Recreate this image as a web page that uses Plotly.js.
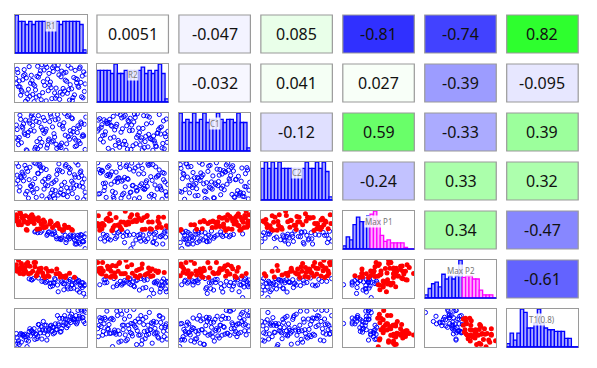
<!DOCTYPE html>
<html><head><meta charset="utf-8">
<script src="https://cdn.plot.ly/plotly-3.0.1.min.js"></script>
<style>html,body{margin:0;padding:0;background:#fff}#chart{width:597px;height:368px}</style>
</head><body><div id="chart"></div>
<script>
const varNames = ['R1','R2','C1','C2','P1','P2','T1'];
const histLabels = ['R1','R2','C1','C2','Max P1','Max P2','T1(0.8)'];

const R1 = [12,73,45,88,3,56,31,67,94,20,49,8,78,36,61,25,83,42,15,97,53,6,70,29,91,38,64,1,80,47,18,59,86,33,74,10,51,99,27,66,40,85,14,57,22,77,44,93,5,69,35,82,17,60,89,24,71,48,2,95,39,63,11,76,52,28,87,7,65,43,98,19,55,32,81,4,68,46,90,23,58,13,79,37,62,0,84,50,26,72,9,96,41,30,75,54,16,92,34,21];
const R2 = [85,22,60,41,77,9,94,35,68,14,52,30,89,5,71,46,18,99,63,27,80,39,57,12,92,24,66,48,3,75,33,87,50,16,96,58,8,73,42,20,84,61,1,36,70,45,91,13,55,28,82,64,7,97,38,19,78,44,86,10,53,25,69,4,90,31,59,17,81,2,47,93,23,65,11,40,76,29,88,56,15,72,34,98,6,62,83,37,0,54,26,79,43,67,32,95,21,51,74,49];
const C1 = [47,91,15,66,29,82,5,58,38,73,97,21,44,62,10,86,33,51,2,70,26,94,41,78,19,55,8,68,85,31,49,96,13,75,37,60,23,89,4,65,46,28,81,17,92,53,7,72,35,99,12,59,40,84,25,67,1,77,56,42,88,14,71,30,63,9,48,83,20,57,3,79,36,93,50,16,74,27,61,98,6,43,87,22,69,34,11,90,52,18,64,39,80,24,95,45,0,76,32,54];
const C2 = [63,8,37,92,51,24,70,13,45,86,2,58,31,77,95,19,66,40,83,55,11,34,89,6,72,48,27,97,16,61,4,79,38,90,21,68,43,9,56,74,28,99,15,52,35,81,1,64,23,46,87,30,75,12,59,41,93,7,65,33,84,18,50,71,26,96,5,62,39,80,20,53,3,69,44,88,14,57,36,25,67,91,49,10,78,42,60,17,98,32,73,0,54,29,85,47,22,76,94,37];
const P1 = [79,56,33,29,75,64,38,41,8,88,79,66,24,68,17,92,13,57,49,24,33,112,29,84,-1,63,14,100,47,41,75,70,-1,79,23,88,33,34,41,46,56,9,97,25,98,30,29,29,77,64,39,30,70,62,4,81,4,68,92,9,82,18,94,17,56,43,19,104,20,60,-17,92,38,90,25,66,50,39,25,100,17,75,49,44,52,80,-1,74,70,13,91,7,75,50,57,44,47,32,52,76];
const P2 = [68,16,57,36,80,42,68,28,14,90,17,100,10,83,64,46,51,32,98,21,31,64,50,55,23,66,40,95,24,53,63,23,34,81,9,78,73,-22,88,54,37,46,72,63,42,43,36,32,75,27,74,12,103,-1,39,72,56,29,72,31,55,52,62,65,20,103,5,86,34,82,24,45,46,48,42,111,6,72,-2,41,80,84,23,36,62,83,30,30,103,38,91,-7,50,59,36,30,93,20,73,65];
const T1 = [22,72,28,99,4,60,23,56,79,46,54,7,64,52,56,35,74,41,13,97,31,28,74,31,77,42,38,32,78,43,10,84,60,58,55,27,38,93,15,76,34,84,23,43,40,82,13,97,0,84,34,73,27,60,74,33,60,46,19,78,67,36,27,69,50,30,65,32,47,56,61,38,34,58,73,11,63,40,82,40,44,30,88,16,76,1,65,56,46,49,30,67,56,17,99,50,-6,102,43,25];

const histR1 = [12,10,10,9,10,9,10,10,10,10,10,10,10,9,10,10,10,10,10,9,1];
const histR2 = [10,10,10,10,9,12,9,9,10,10,10,10,10,11,9,10,9,10,12,9,1];
const histC1 = [12,9,10,9,12,9,10,12,9,10,10,12,10,9,10,10,9,12,9,9,1];
const histC2 = [10,12,10,12,10,12,10,10,10,10,10,10,10,12,10,10,12,10,12,9,1];
const histP1 = [2,8,6,16,21,18,18,22,23,25,19,9,5,6,4,4,4,4,1,0,0];
const histP2 = [2,6,9,10,7,15,12,14,12,14,24,13,14,14,12,12,5,2,2,2,0];
const histT1 = [2,8,4,8,22,20,11,11,14,22,14,11,10,10,9,9,9,5,5,0,0];

const corrRows = [
  [0.0051,-0.047,0.085,-0.81,-0.74,0.82],
  [-0.032,0.041,0.027,-0.39,-0.095],
  [-0.12,0.59,-0.33,0.39],
  [-0.24,0.33,0.32],
  [0.34,-0.47],
  [-0.61]
];
const thresholds = [null,null,null,null,44,48,null];
const splitBins = [null,null,null,null,8,11,null];

const data = [R1,R2,C1,C2,P1,P2,T1];
const hists = [histR1,histR2,histC1,histC2,histP1,histP2,histT1];

const W=597,H=368, cw=71.5, rh=38;
const colLeft = j => 15 + 81.95*j;
const rowTop = i => 15 + 49*i;
const xdom = j => [colLeft(j)/W, (colLeft(j)+cw)/W];
const ydom = i => [1-(rowTop(i)+rh)/H, 1-rowTop(i)/H];
const grey = '#9a9a9a';

const traces=[];
const layout={width:W,height:H,margin:{l:0,r:0,t:0,b:0},paper_bgcolor:'#fff',plot_bgcolor:'#fff',
  showlegend:false,barmode:'overlay',bargap:0,shapes:[],annotations:[]};

function axis(domain,range,anchor){
  return {domain,range,anchor,showline:true,mirror:true,linecolor:grey,linewidth:1,showgrid:false,
    zeroline:false,showticklabels:false,ticks:'',fixedrange:true};
}
function ext(arr){const mn=Math.min(...arr),mx=Math.max(...arr),p=(mx-mn)*0.01;return [mn-p,mx+p];}
function corrColor(r){
  const v=Math.round(255*(1-Math.abs(r)));
  return r>=0 ? `rgb(${v},255,${v})` : `rgb(${v},${v},255)`;
}

let k=0;
for(let i=0;i<7;i++){
  for(let j=0;j<7;j++){
    if(j>i){
      const r=corrRows[i][j-i-1];
      const xd=xdom(j), yd=ydom(i);
      layout.shapes.push({type:'rect',xref:'paper',yref:'paper',x0:xd[0],x1:xd[1],y0:yd[0],y1:yd[1],
        fillcolor:corrColor(r),line:{color:grey,width:1.2},layer:'below'});
      layout.annotations.push({xref:'paper',yref:'paper',x:(xd[0]+xd[1])/2,y:(yd[0]+yd[1])/2,
        text:String(r),showarrow:false,xanchor:'center',yanchor:'middle',
        font:{family:'Noto Sans, Segoe UI, sans-serif',size:16,color:'#111'}});
      continue;
    }
    k++;
    const s = k===1?'':String(k);
    const xr='x'+s, yr='y'+s;
    if(i===j){
      const h=hists[i], n=h.length, sp=splitBins[i]===null?n:splitBins[i];
      const idx=h.map((_,q)=>q);
      layout['xaxis'+s]=axis(xdom(j),[-0.5,n-0.5],yr);
      layout['yaxis'+s]=axis(ydom(i),[0,Math.max(...h)],xr);
      traces.push({type:'bar',x:idx.slice(0,sp),y:h.slice(0,sp),width:1,xaxis:xr,yaxis:yr,hoverinfo:'skip',
        marker:{color:'#aaaaff',line:{color:'#0000ff',width:1.3}}});
      if(sp<n){
        traces.push({type:'bar',x:idx.slice(sp),y:h.slice(sp),width:1,xaxis:xr,yaxis:yr,hoverinfo:'skip',
          marker:{color:'#ffaaff',line:{color:'#ff00ff',width:1.3}}});
      }
      layout.shapes.push({type:'line',xref:xr+' domain',yref:yr+' domain',x0:0,x1:1,y0:0,y1:0,
        line:{color:'#0000ff',width:1.5},layer:'above'});
      layout.annotations.push({xref:xr+' domain',yref:yr+' domain',x:0.5,y:0.73,text:histLabels[i],
        showarrow:false,xanchor:'center',yanchor:'middle',bgcolor:'rgba(255,255,255,0.85)',borderpad:0,
        font:{family:'Noto Sans, sans-serif',size:8,color:'#777'}});
    } else {
      const xs=data[j], ys=data[i];
      layout['xaxis'+s]=axis(xdom(j),ext(xs),yr);
      layout['yaxis'+s]=axis(ydom(i),ext(ys),xr);
      const red=xs.map((_,p)=>(thresholds[i]!==null && ys[p]>thresholds[i]) || (thresholds[j]!==null && xs[p]>thresholds[j]));
      const bx=[],by=[],rx=[],ry=[];
      xs.forEach((v,p)=>{ if(red[p]){rx.push(v);ry.push(ys[p]);} else {bx.push(v);by.push(ys[p]);} });
      traces.push({type:'scatter',mode:'markers',x:bx,y:by,xaxis:xr,yaxis:yr,hoverinfo:'skip',
        marker:{symbol:'circle-open',size:4.2,color:'#0000ff',line:{width:1}}});
      if(rx.length){
        traces.push({type:'scatter',mode:'markers',x:rx,y:ry,xaxis:xr,yaxis:yr,hoverinfo:'skip',
          marker:{symbol:'circle',size:5,color:'#ff0000'}});
      }
    }
  }
}
Plotly.newPlot('chart',traces,layout,{staticPlot:true,displayModeBar:false});
</script></body></html>
